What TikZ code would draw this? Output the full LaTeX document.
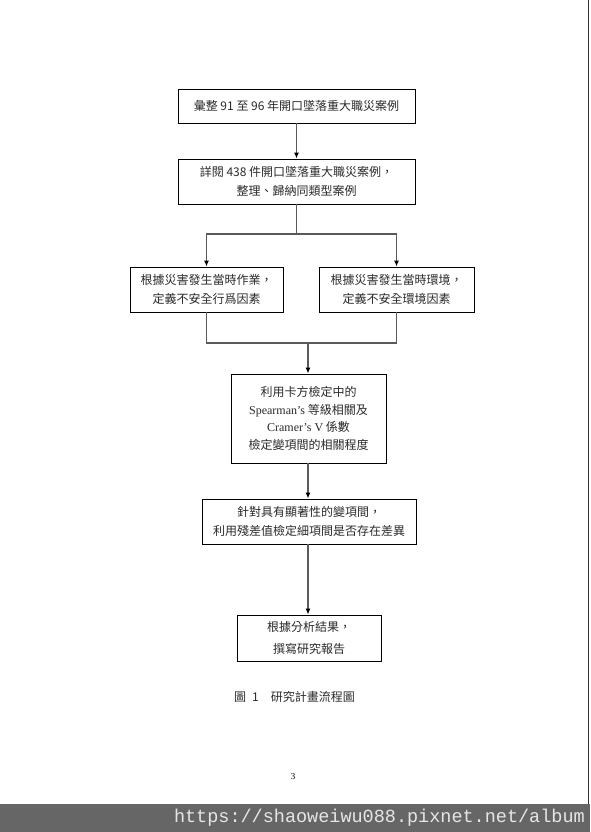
\documentclass[tikz,border=0pt]{standalone}
\usepackage{fontspec}
\setmainfont{Liberation Serif}
\newfontfamily\cjk{Noto Sans CJK TC}
\newfontfamily\monofam{Liberation Mono}
\usetikzlibrary{arrows.meta}
\definecolor{txt}{HTML}{2A2A2A}
\definecolor{conn}{HTML}{5A5A5A}
\definecolor{band}{HTML}{666666}
\definecolor{mark}{HTML}{E6E6E6}
\tikzset{
  stepbox/.style={draw=black, line width=0.9pt, rectangle, inner sep=0pt, align=center, text=txt, font=\cjk\fontsize{12}{19}\selectfont},
  conline/.style={draw=conn, line width=1.3pt},
  conarrow/.style={conline, -{Latex[length=6pt,width=5pt,color=black]}}
}
\begin{document}
\begin{tikzpicture}[x=1pt,y=-1pt]
\useasboundingbox (0,0) rectangle (590,832);
\fill[white] (0,0) rectangle (590,832);

\node[stepbox, minimum width=237pt, minimum height=34pt] (b1) at (296.5,106) {彙整 91 至 96 年開口墜落重大職災案例};
\node[stepbox, minimum width=237pt, minimum height=45pt] (b2) at (296.5,181.5) {詳閱 438 件開口墜落重大職災案例，\\整理、歸納同類型案例};
\node[stepbox, minimum width=153pt, minimum height=45pt] (b3l) at (206.5,289.5) {根據災害發生當時作業，\\定義不安全行爲因素};
\node[stepbox, minimum width=155pt, minimum height=45pt] (b3r) at (396.5,289.5) {根據災害發生當時環境，\\定義不安全環境因素};
\node[stepbox, minimum width=155pt, minimum height=89pt, font=\cjk\fontsize{12}{17.7}\selectfont] (b4) at (308.5,418.5) {利用卡方檢定中的\\{\rmfamily Spearman’s} 等級相關及\\{\rmfamily Cramer’s V} 係數\\檢定變項間的相關程度};
\node[stepbox, minimum width=214pt, minimum height=45pt, font=\cjk\fontsize{12}{18.5}\selectfont] (b5) at (309,521.5) {針對具有顯著性的變項間，\\利用殘差值檢定細項間是否存在差異};
\node[stepbox, minimum width=144pt, minimum height=46pt, font=\cjk\fontsize{12}{21.5}\selectfont] (b6) at (309,638) {根據分析結果，\\撰寫研究報告};

\coordinate (j1) at (296.5,234);
\coordinate (j2) at (308,343);

\draw[conarrow] (b1.south) -- (b2.north);
\draw[conline] (b2.south) -- (j1);
\draw[conarrow] (j1) -| (b3l.north);
\draw[conarrow] (j1) -| (b3r.north);
\draw[conline] (b3l.south) |- (j2) -| (b3r.south);
\draw[conarrow] (j2) -- (j2 |- b4.north);
\draw[conarrow] (j2 |- b4.south) -- (j2 |- b5.north);
\draw[conarrow] (j2 |- b5.south) -- (j2 |- b6.north);

\node[anchor=west, inner sep=0pt, text=txt, font=\cjk\fontsize{12}{14}\selectfont] (cap) at (234,697) {圖\hspace{6pt}1\hspace{12pt}研究計畫流程圖};
\node[inner sep=0pt, text=black, font=\fontsize{9}{10}\selectfont] (pg) at (293,777) {3};

\fill[band] (0,804) rectangle (590,832);
\node[anchor=east, inner sep=0pt, text=mark, font=\monofam\fontsize{18.5}{20}\selectfont] (wm) at (585,818) {https://shaoweiwu088.pixnet.net/album};
\draw[black!80, line width=1.5pt] (588.5,0) -- (588.5,804);
\end{tikzpicture}
\end{document}
